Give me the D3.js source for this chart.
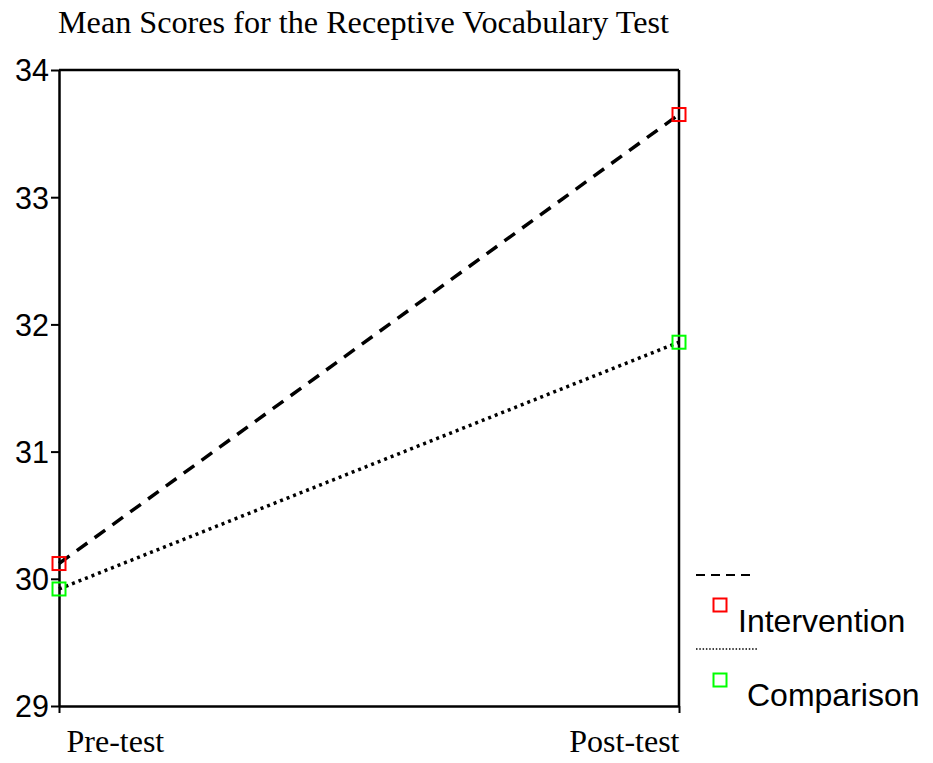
<!DOCTYPE html>
<html>
<head>
<meta charset="utf-8">
<script src="https://cdn.jsdelivr.net/npm/d3@7"></script>
<style>
  html, body { margin: 0; padding: 0; background: #fff; }
  svg { display: block; }
</style>
</head>
<body>
<svg id="chart" width="933" height="763"></svg>
<script>
// ---- data ----
const categories = ["Pre-test", "Post-test"];
const seriesNames = ["Intervention", "Comparison"];
const interventionValues = [30.12, 33.65];
const comparisonValues = [29.92, 31.86];
const yTicks = [29, 30, 31, 32, 33, 34];
const titleText = "Mean Scores for the Receptive Vocabulary Test";

(function () {
const series = [
  { name: seriesNames[0], values: interventionValues, color: "#ff0000", dash: "13,9", lw: 3.5, legendDash: "9,6", legendLw: 2, legendEnd: 753 },
  { name: seriesNames[1], values: comparisonValues, color: "#00ff00", dash: "3,4", lw: 3.5, legendDash: "1.5,1.8", legendLw: 1.5, legendEnd: 757 }
];

const svg = d3.select("#chart");
const pLeft = 59, pRight = 679, pTop = 70, pBottom = 706;
const axisW = 2.5;

const x = d3.scalePoint().domain(categories).range([pLeft, pRight]).padding(0);
const y = d3.scaleLinear().domain([29, 34]).range([pBottom, pTop]);

// title
svg.append("text")
  .attr("x", 58).attr("y", 33)
  .attr("font-family", "'Liberation Serif', 'Times New Roman', serif")
  .attr("font-size", 32.2)
  .attr("fill", "#000")
  .text(titleText);

// frame (top + right)
svg.append("line").attr("x1", pLeft).attr("x2", pRight).attr("y1", pTop).attr("y2", pTop)
  .attr("stroke", "#000").attr("stroke-width", axisW);
svg.append("line").attr("x1", pRight).attr("x2", pRight).attr("y1", pTop).attr("y2", pBottom)
  .attr("stroke", "#000").attr("stroke-width", axisW);

// y axis
const yAxis = svg.append("g")
  .attr("transform", `translate(${pLeft},0)`)
  .call(d3.axisLeft(y).tickValues(yTicks).tickSize(8).tickPadding(2).tickSizeOuter(0).tickFormat(d3.format("d")));
yAxis.select(".domain").attr("stroke", "#000").attr("stroke-width", axisW);
yAxis.selectAll(".tick line").attr("stroke", "#000").attr("stroke-width", 2);
yAxis.selectAll(".tick text")
  .attr("font-family", "'Liberation Sans', Arial, sans-serif")
  .attr("font-size", 30.5)
  .attr("fill", "#000")
  .attr("dy", "0.36em");

// x axis
const xAxis = svg.append("g")
  .attr("transform", `translate(0,${pBottom})`)
  .call(d3.axisBottom(x).tickSize(7).tickSizeOuter(0));
xAxis.select(".domain").attr("stroke", "#000").attr("stroke-width", axisW);
xAxis.selectAll(".tick line").attr("stroke", "#000").attr("stroke-width", 2);
xAxis.selectAll(".tick text")
  .attr("font-family", "'Liberation Serif', 'Times New Roman', serif")
  .attr("font-size", 32)
  .attr("fill", "#000")
  .attr("y", 46).attr("dy", 0)
  .attr("text-anchor", (d, i) => i === 0 ? "start" : "end")
  .attr("x", (d, i) => i === 0 ? 7 : 0);

// lines
const line = d3.line().x((d, i) => x(categories[i])).y(d => y(d));
series.forEach(s => {
  svg.append("path")
    .datum(s.values)
    .attr("d", line)
    .attr("fill", "none")
    .attr("stroke", "#000")
    .attr("stroke-width", s.lw)
    .attr("stroke-dasharray", s.dash);
});

// markers
const ms = 13;
series.forEach(s => {
  svg.selectAll(null)
    .data(s.values)
    .enter().append("rect")
    .attr("x", (d, i) => x(categories[i]) - ms / 2)
    .attr("y", d => y(d) - ms / 2)
    .attr("width", ms).attr("height", ms)
    .attr("fill", "none")
    .attr("stroke", s.color)
    .attr("stroke-width", 2);
});

// legend
const legendLineY = [575, 649];
const legendBoxY = [605, 680];
const legendTextX = [738, 747];
const legendTextY = [632, 706];
series.forEach((s, i) => {
  svg.append("line")
    .attr("x1", 696).attr("x2", s.legendEnd)
    .attr("y1", legendLineY[i]).attr("y2", legendLineY[i])
    .attr("stroke", "#000")
    .attr("stroke-width", s.legendLw)
    .attr("stroke-dasharray", s.legendDash);
  svg.append("rect")
    .attr("x", 720 - 6.5).attr("y", legendBoxY[i] - 6.5)
    .attr("width", 13).attr("height", 13)
    .attr("fill", "none").attr("stroke", s.color).attr("stroke-width", 2);
  svg.append("text")
    .attr("x", legendTextX[i]).attr("y", legendTextY[i])
    .attr("font-family", "'Liberation Sans', Arial, sans-serif")
    .attr("font-size", 32)
    .attr("fill", "#000")
    .text(s.name);
});
})();
</script>
</body>
</html>
